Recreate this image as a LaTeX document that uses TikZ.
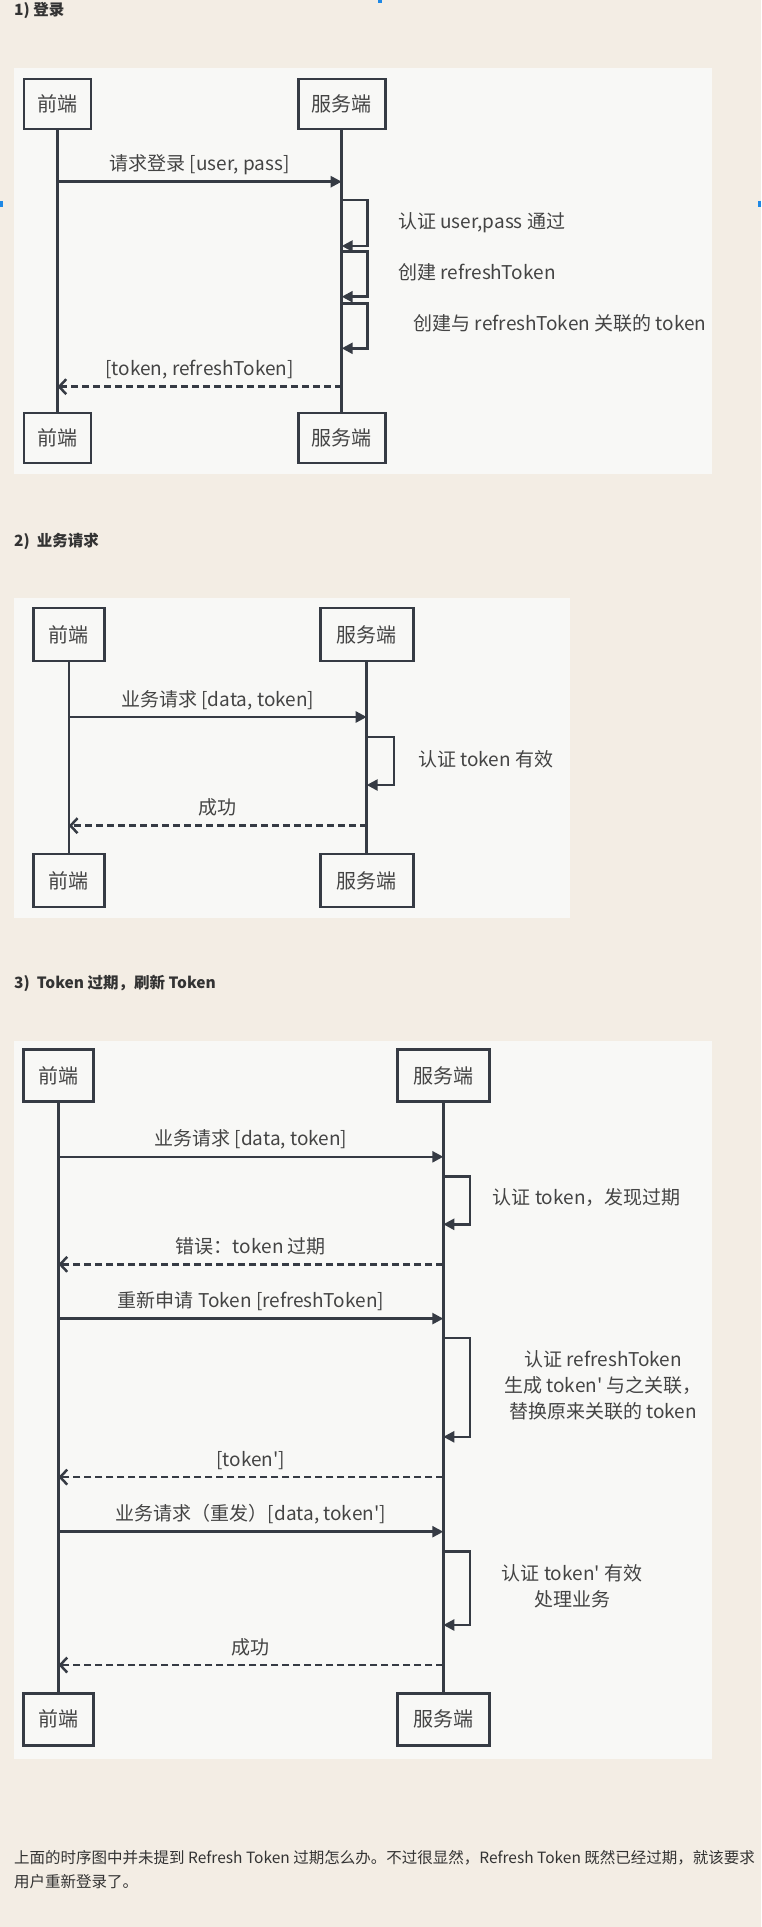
\documentclass[tikz,border=0pt]{standalone}
\usepackage{fontspec}
\setmainfont{Noto Sans CJK SC}[Ligatures=TeXOff]
\usetikzlibrary{arrows.meta}
\definecolor{pagebg}{HTML}{F3EDE4}
\definecolor{panelbg}{HTML}{F8F8F6}
\definecolor{ink}{HTML}{363B44}
\definecolor{txt}{HTML}{444444}
\definecolor{handlecol}{HTML}{1E88E5}
\begin{document}
\begin{tikzpicture}[x=1pt,y=-1pt,
    actor/.style={draw=ink,line width=2.8pt,fill=panelbg,inner sep=0pt,
      font=\fontsize{20}{24}\selectfont,text=txt},
    life/.style={draw=ink,line width=2.5pt},
    msg/.style={draw=ink,line width=2.5pt,-{Triangle[length=11pt,width=11pt]}},
    ret/.style={draw=ink,line width=2.5pt,dash pattern=on 7pt off 4pt,
      -{Straight Barb[length=7pt,width=15pt]}},
    lbl/.style={midway,anchor=base,yshift=11pt,inner sep=0pt,
      font=\fontsize{19}{23}\selectfont,text=txt},
    note/.style={inner sep=0pt,font=\fontsize{19}{26}\selectfont,text=txt},
    title/.style={anchor=base west,inner sep=0pt,
      font=\fontsize{15.5}{18}\selectfont\bfseries,text=black!80},
    para/.style={anchor=base west,inner sep=0pt,
      font=\fontsize{15.5}{23}\selectfont,text=black!80}]
  \useasboundingbox (0,0) rectangle (761,1927);
  \fill[pagebg] (0,0) rectangle (761,1927);
  \fill[handlecol] (378,0) rectangle (382,3);
  \fill[handlecol] (0,201) rectangle (3,207);
  \fill[handlecol] (758,201) rectangle (761,207);
  \fill[panelbg] (14,67.7) rectangle (711.5,474.3);
  \fill[panelbg] (14,597.7) rectangle (570,917.7);
  \fill[panelbg] (14,1041) rectangle (711.5,1758.7);

  % 1) login
  \node[title] (t1) at (14,15.5) {1) 登录};
  \node[actor,minimum width=67pt,minimum height=50pt] (fe1t) at (57.5,104) {前端};
  \node[actor,minimum width=87pt,minimum height=50pt] (be1t) at (341.7,104) {服务端};
  \node[actor,minimum width=67pt,minimum height=50pt] (fe1b) at (57.5,438) {前端};
  \node[actor,minimum width=87pt,minimum height=50pt] (be1b) at (341.7,438) {服务端};
  \draw[life] (fe1t) -- (fe1b);
  \draw[life] (be1t) -- (be1b);
  \draw[msg] (fe1t |- 0,181.7) -- (be1t |- 0,181.7) node[lbl] {请求登录 [user, pass]};
  \draw[msg] (be1t |- 0,200) -| (367.4,246) -- (be1t |- 0,246);
  \draw[msg] (be1t |- 0,251.7) -| (367.4,296.7) -- (be1t |- 0,296.7);
  \draw[msg] (be1t |- 0,303.3) -| (367.4,348.3) -- (be1t |- 0,348.3);
  \node[note,anchor=base west] (n1a) at (398,228) {认证 user,pass 通过};
  \node[note,anchor=base west] (n1b) at (398,279) {创建 refreshToken};
  \node[note,anchor=base west] (n1c) at (413.5,330.5) {创建与 refreshToken 关联的 token};
  \draw[ret] (be1t |- 0,386.7) -- (fe1t |- 0,386.7) node[lbl] {[token, refreshToken]};

  % 2) request
  \node[title] (t2) at (14,546.3) {2)\ \ 业务请求};
  \node[actor,minimum width=71pt,minimum height=53pt] (fe2t) at (68.8,634.5) {前端};
  \node[actor,minimum width=93pt,minimum height=53pt] (be2t) at (366.7,634.5) {服务端};
  \node[actor,minimum width=71pt,minimum height=53pt] (fe2b) at (68.8,880.5) {前端};
  \node[actor,minimum width=93pt,minimum height=53pt] (be2b) at (366.7,880.5) {服务端};
  \draw[life] (fe2t) -- (fe2b);
  \draw[life] (be2t) -- (be2b);
  \draw[msg] (fe2t |- 0,717) -- (be2t |- 0,717) node[lbl] {业务请求 [data, token]};
  \draw[msg] (be2t |- 0,737) -| (394,785) -- (be2t |- 0,785);
  \node[note,anchor=base west] (n2a) at (418,766.5) {认证 token 有效};
  \draw[ret] (be2t |- 0,825.7) -- (fe2t |- 0,825.7) node[lbl] {成功};

  % 3) token expired, refresh
  \node[title] (t3) at (14,988.1) {3)\ \ Token 过期，刷新 Token};
  \node[actor,minimum width=70pt,minimum height=52pt] (fe3t) at (58.5,1075.8) {前端};
  \node[actor,minimum width=92pt,minimum height=52pt] (be3t) at (443.3,1075.8) {服务端};
  \node[actor,minimum width=70pt,minimum height=52pt] (fe3b) at (58.5,1719.2) {前端};
  \node[actor,minimum width=92pt,minimum height=52pt] (be3b) at (443.3,1719.2) {服务端};
  \draw[life] (fe3t) -- (fe3b);
  \draw[life] (be3t) -- (be3b);
  \draw[msg] (fe3t |- 0,1156.8) -- (be3t |- 0,1156.8) node[lbl] {业务请求 [data, token]};
  \draw[msg] (be3t |- 0,1176.4) -| (469.8,1224.3) -- (be3t |- 0,1224.3);
  \node[note,anchor=base west] (n3a) at (492.6,1204.7) {认证 token，发现过期};
  \draw[ret] (be3t |- 0,1264.3) -- (fe3t |- 0,1264.3) node[lbl] {错误：token 过期};
  \draw[msg] (fe3t |- 0,1318.6) -- (be3t |- 0,1318.6) node[lbl] {重新申请 Token [refreshToken]};
  \draw[msg] (be3t |- 0,1337.9) -| (469.8,1436.8) -- (be3t |- 0,1436.8);
  \node[note,align=center] (n3b) at (603,1385.5) {认证 refreshToken\\生成 token' 与之关联，\\替换原来关联的 token};
  \draw[ret] (be3t |- 0,1477.1) -- (fe3t |- 0,1477.1) node[lbl] {[token']};
  \draw[msg] (fe3t |- 0,1531.7) -- (be3t |- 0,1531.7) node[lbl] {业务请求（重发）[data, token']};
  \draw[msg] (be3t |- 0,1551.7) -| (469.8,1625) -- (be3t |- 0,1625);
  \node[note,align=center] (n3c) at (572,1586) {认证 token' 有效\\处理业务};
  \draw[ret] (be3t |- 0,1665) -- (fe3t |- 0,1665) node[lbl] {成功};

  \node[para] (p1) at (14,1863) {上面的时序图中并未提到 Refresh Token 过期怎么办。不过很显然，Refresh Token 既然已经过期，就该要求};
  \node[para] (p2) at (14,1887) {用户重新登录了。};
\end{tikzpicture}
\end{document}
